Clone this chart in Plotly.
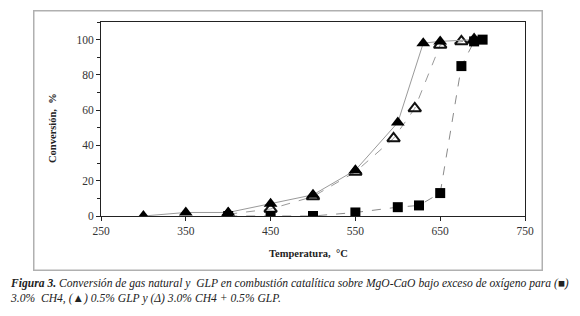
import plotly.graph_objects as go

# Data
ch4_temp = [400, 450, 500, 550, 600, 625, 650, 675, 690, 700]
ch4_conv = [0, 0, 0, 2, 5, 6, 13, 85, 99, 100]

glp_temp = [300, 350, 400, 450, 500, 550, 600, 630, 650, 690]
glp_conv = [0, 2, 2, 7, 12, 26, 53, 98, 99, 100]

mix_temp = [400, 450, 500, 550, 595, 620, 650, 675, 690]
mix_conv = [1, 4, 11, 25, 44, 61, 97, 99, 100]

x_ticks = [250, 350, 450, 550, 650, 750]
y_ticks = [0, 20, 40, 60, 80, 100]

fig = go.Figure()

fig.add_trace(go.Scatter(
    x=mix_temp, y=mix_conv, mode="lines+markers", name="3.0% CH4 + 0.5% GLP",
    line=dict(color="#9a9a9a", width=1, dash="dash"),
    marker=dict(symbol="triangle-up-open", size=11, color="#111111", line=dict(width=2, color="#111111")),
))
fig.add_trace(go.Scatter(
    x=glp_temp, y=glp_conv, mode="lines+markers", name="0.5% GLP",
    line=dict(color="#9a9a9a", width=1),
    marker=dict(symbol="triangle-up", size=12, color="#000000"),
))
fig.add_trace(go.Scatter(
    x=ch4_temp, y=ch4_conv, mode="lines+markers", name="3.0% CH4",
    line=dict(color="#8a8a8a", width=1, dash="dash"),
    marker=dict(symbol="square", size=10, color="#000000"),
))

font_serif = "Liberation Serif, Times New Roman, serif"

# figure is placed at (8, 8) in the page by the default body margin
OFF = 8
L, T, PW, PH = 101 - OFF, 22 - OFF, 424, 194


def px(x):
    return (x - OFF - L) / PW


def py(y):
    return (T + PH - (y - OFF)) / PH


fig.update_layout(
    width=572, height=308,
    margin=dict(l=L, r=572 - L - PW, t=T, b=308 - T - PH),
    paper_bgcolor="white", plot_bgcolor="white",
    showlegend=False,
    font=dict(family=font_serif, size=11, color="#222222"),
    xaxis=dict(
        range=[250, 750], tickvals=x_ticks, ticks="outside", ticklen=4,
        tickcolor="#222", showgrid=False, zeroline=False,
        showline=True, linecolor="#222", linewidth=1, mirror=True,
        tickfont=dict(family=font_serif, size=11.5, color="#333"),
    ),
    yaxis=dict(
        range=[0, 110], tickvals=y_ticks, ticks="outside", ticklen=4,
        tickcolor="#222", showgrid=False, zeroline=False,
        showline=True, linecolor="#222", linewidth=1, mirror=True,
        minor=dict(dtick=10, ticks="outside", ticklen=3, tickcolor="#222"),
        tickfont=dict(family=font_serif, size=11.5, color="#333"),
    ),
    annotations=[
        # outer grey frame drawn as an empty bordered annotation box
        dict(text=" ", xref="paper", yref="paper",
             x=px((33 + 542) / 2), y=py((10 + 270) / 2),
             xanchor="center", yanchor="middle", showarrow=False,
             width=507, height=258, borderpad=0,
             bordercolor="#b0b0b0", borderwidth=1.5, bgcolor="rgba(0,0,0,0)"),
        dict(text="<b>Conversión,  %</b>", xref="paper", yref="paper",
             x=px(52), y=py(128), textangle=-90,
             showarrow=False, font=dict(family=font_serif, size=10.5, color="#222"),
             xanchor="center", yanchor="middle"),
        dict(text="<b>Temperatura,  °C</b>", xref="paper", yref="paper",
             x=px(308), y=py(253),
             showarrow=False, font=dict(family=font_serif, size=10.5, color="#222"),
             xanchor="center", yanchor="middle"),
        dict(text="<b><i>Figura 3.</i></b><i> Conversión de gas natural y  GLP en combustión catalítica sobre MgO-CaO bajo exceso de oxígeno para (■)</i>",
             xref="paper", yref="paper", x=px(8), y=py(283),
             showarrow=False, font=dict(family=font_serif, size=11.6, color="#222"),
             xanchor="left", yanchor="middle"),
        dict(text="<i>3.0%  CH4, (▲) 0.5% GLP y (Δ) 3.0% CH4 + 0.5% GLP.</i>",
             xref="paper", yref="paper", x=px(8), y=py(298),
             showarrow=False, font=dict(family=font_serif, size=11.6, color="#222"),
             xanchor="left", yanchor="middle"),
    ],
)

fig.write_html("out.html", config={"displayModeBar": False})
